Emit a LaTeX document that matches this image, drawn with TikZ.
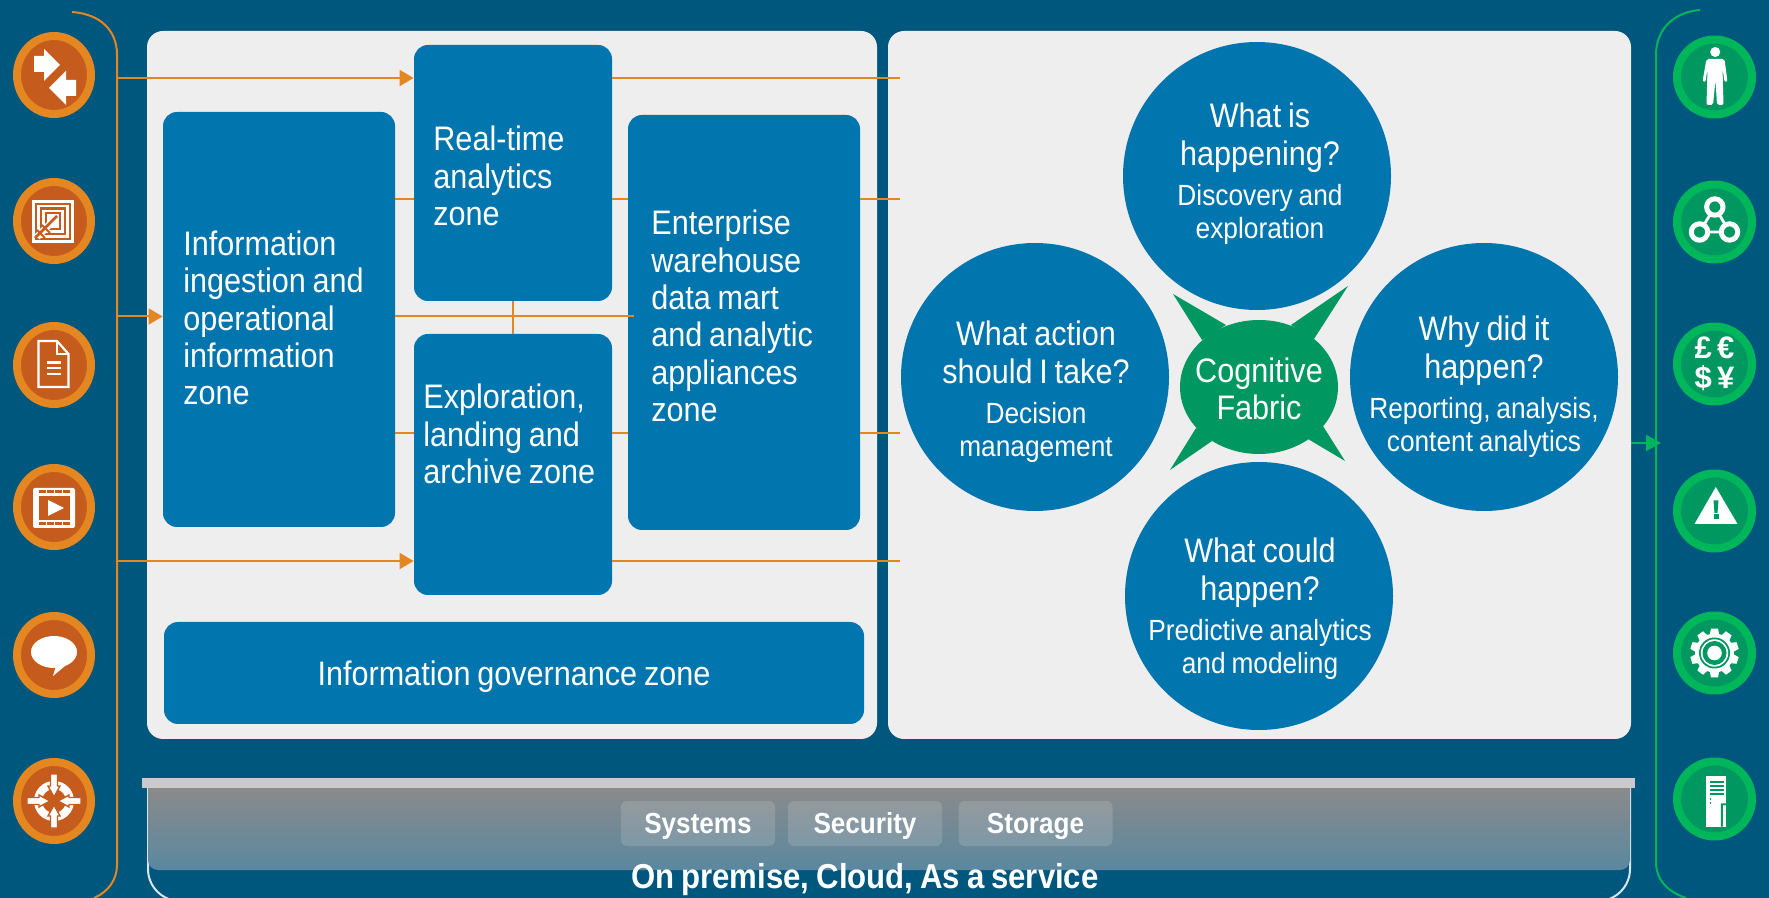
\documentclass[tikz,border=0pt]{standalone}
\usepackage{fontspec}
\setmainfont{Liberation Sans}[FakeStretch=0.9,WordSpace=0.8]
\newfontfamily\iconfont{Liberation Sans}
\usetikzlibrary{arrows.meta,shapes.geometric,shadows}
\definecolor{bgc}{HTML}{00577E}
\definecolor{panelc}{HTML}{EEEEEE}
\definecolor{zonec}{HTML}{0075AE}
\definecolor{orangec}{HTML}{E48720}
\definecolor{rustc}{HTML}{C65B1E}
\definecolor{limec}{HTML}{00B65A}
\definecolor{teal}{HTML}{009860}
\definecolor{barc}{HTML}{CBCBCB}
\definecolor{gradtop}{HTML}{8A8A8A}
\definecolor{gradbot}{HTML}{5A88A0}
\newcommand{\qbig}{\fontsize{17}{18.7}\selectfont}
\newcommand{\qsmall}{\fontsize{14.6}{18.7}\selectfont}
\tikzset{
  panel/.style={fill=panelc, rounded corners=8pt, inner sep=0pt},
  zone/.style={fill=zonec, rounded corners=7pt, inner sep=0pt},
  ztext/.style={text=white, align=left, anchor=west, inner sep=0pt, font=\qbig},
  qcircle/.style={circle, fill=zonec, inner sep=0pt, minimum size=134pt},
  qtext/.style={text=white, align=center, inner sep=0pt, font=\qbig},
  iconL/.style={ellipse, fill=rustc, draw=orangec, line width=4pt, minimum width=37pt, minimum height=39pt, inner sep=0pt,
    drop shadow={shadow xshift=.8pt, shadow yshift=-1pt, opacity=.35, fill=black!50}},
  iconR/.style={circle, fill=teal, draw=limec, line width=4pt, minimum size=37.5pt, inner sep=0pt,
    drop shadow={shadow xshift=.8pt, shadow yshift=-1pt, opacity=.35, fill=black!50}},
  oline/.style={draw=orangec, line width=1pt},
  oarrow/.style={oline, -{Triangle[length=7pt,width=8pt]}},
  gline/.style={draw=limec, line width=1pt},
  button/.style={fill=white, fill opacity=.14, text opacity=1, text=white, rounded corners=3pt, inner sep=0pt,
    minimum width=77pt, minimum height=22.5pt, text height=10.3pt, text depth=0pt, font=\fontsize{14.5}{17}\selectfont\bfseries},
}
\begin{document}
\begin{tikzpicture}[x=0.5pt,y=-0.5pt]
\clip (0,0) rectangle (1769,898);
\fill[bgc] (0,0) rectangle (1769,898);

% panels
\node (leftp) at (512,385) [panel, minimum width=365pt, minimum height=354pt] {};
\node (rightp) at (1259.5,385) [panel, minimum width=371.5pt, minimum height=354pt] {};

% zones
\node (ing) at (279,319.5) [zone, minimum width=116pt, minimum height=207.5pt] {};
\node (rt) at (513,173) [zone, minimum width=99pt, minimum height=128pt] {};
\node (expl) at (513,464.5) [zone, minimum width=99pt, minimum height=130.5pt] {};
\node (ent) at (744,322.5) [zone, minimum width=116pt, minimum height=207.5pt] {};
\node (gov) at (514,673) [zone, minimum width=350pt, minimum height=51pt] {};
\node (ingt) at (183,318) [ztext] {Information\\ingestion and\\operational\\information\\zone};
\node (rtt) at (433,176) [ztext] {Real-time\\analytics\\zone};
\node (explt) at (423,434) [ztext] {Exploration,\\landing and\\archive zone};
\node (entt) at (651,316) [ztext] {Enterprise\\warehouse\\data mart\\and analytic\\appliances\\zone};
\node (govt) at (514,677) [ztext, anchor=center] {Information governance zone};

% left spine and arrows
\coordinate (spA) at (117,78);
\coordinate (spB) at (117,199);
\coordinate (spC) at (117,316.5);
\coordinate (spD) at (117,433);
\coordinate (spE) at (117,561);
\coordinate (endA) at (900,78);
\coordinate (endB) at (900,199);
\coordinate (endD) at (900,433);
\coordinate (endE) at (900,561);
\draw[oline] (72,12) .. controls (100,14) and (117,30) .. (117,55) -- (117,865) .. controls (117,880) and (108,892) .. (94,898);
\draw[oarrow] (spA) -- (rt.west |- spA);
\draw[oarrow] (spC) -- (ing.west |- spC);
\draw[oarrow] (spE) -- (expl.west |- spE);
\draw[oline] (rt.east |- endA) -- (endA);
\draw[oline] (expl.east |- endE) -- (endE);
\draw[oline] (ing.east |- spB) -- (rt.west |- spB);
\draw[oline] (rt.east |- spB) -- (ent.west |- spB);
\draw[oline] (ent.east |- endB) -- (endB);
\draw[oline] (ing.east |- spD) -- (expl.west |- spD);
\draw[oline] (expl.east |- spD) -- (ent.west |- spD);
\draw[oline] (ent.east |- endD) -- (endD);
\draw[oline] (ing.east |- spC) -- ([xshift=3pt]ent.west |- spC);
\draw[oline] (rt.south) -- (expl.north);

% questions
\node (qtop) at (1257,176) [qcircle] {};
\node (qleft) at (1035,377) [qcircle] {};
\node (qright) at (1484,377) [qcircle] {};
\node (qbot) at (1259,596) [qcircle] {};
\node (ttop) at (1260,173.8) [qtext] {What is\\happening?\\[1.7pt]\qsmall Discovery and\\[-2.4pt]\qsmall exploration};
\node (tleft) at (1036,391.8) [qtext] {What action\\should I take?\\[1.7pt]\qsmall Decision\\[-2.4pt]\qsmall management};
\node (tright) at (1484,386.8) [qtext] {Why did it\\happen?\\[1.7pt]\qsmall Reporting, analysis,\\[-2.4pt]\qsmall content analytics};
\node (tbot) at (1260,608.8) [qtext] {What could\\happen?\\[1.7pt]\qsmall Predictive analytics\\[-2.4pt]\qsmall and modeling};

% cognitive fabric
\fill[teal] (1226,325) -- (1173,294) -- (1202,340) -- cycle;
\fill[teal] (1291,325) -- (1348,286) -- (1314,339) -- cycle;
\fill[teal] (1323,426) -- (1345,461) -- (1308,439) -- cycle;
\fill[teal] (1212,441) -- (1170,470) -- (1196,428) -- cycle;
\node (cog) at (1259,387) [ellipse, fill=teal, minimum width=79pt, minimum height=67pt, inner sep=0pt] {};
\node (cogt) at (1259,389) [qtext] {Cognitive\\Fabric};

% right spine
\coordinate (spR) at (1656,443);
\draw[gline] (1700,10) .. controls (1675,12) and (1656,28) .. (1656,55) -- (1656,862) .. controls (1656,880) and (1668,892) .. (1686,898);
\draw[gline, -{Triangle[length=7.5pt,width=8pt]}] (rightp.east |- spR) -- ([xshift=2.5pt]spR);

% platform
\draw[white!85!bgc, line width=1pt, rounded corners=16pt] (148,788) -- (148,901) -- (1630,901) -- (1630,788);
\path[top color=gradtop, bottom color=gradbot, shading angle=0]
  (148,788) [rounded corners=5pt] -- (148,870) -- (1630,870) [sharp corners] -- (1630,788) -- cycle;
\fill[barc] (142,778) rectangle (1635,788);
\node (sys) at (698,823.5) [button] {Systems};
\node (sec) at (865,823.5) [button] {Security};
\node (sto) at (1035.5,823.5) [button] {Storage};
\node (prem) at (865,880) [text=white, inner sep=0pt, font=\fontsize{17.3}{18}\selectfont\bfseries] {On premise, Cloud, As a service};

% left icons
\node (iA) at (54,75) [iconL] {};
\node (iB) at (54,221) [iconL] {};
\node (iC) at (54,365) [iconL] {};
\node (iD) at (54,507) [iconL] {};
\node (iE) at (54,655) [iconL] {};
\node (iF) at (54,801) [iconL] {};

\begin{scope}[shift={(54,75)}]
  \fill[white] (-20,-19) -- (-10,-19) -- (-10,-26) -- (6,-10) -- (-10,6) -- (-10,-3) -- (-20,-3) -- cycle;
  \fill[white] (22,5) -- (12,5) -- (12,-4) -- (-5,13) -- (12,30) -- (12,21) -- (22,21) -- cycle;
\end{scope}
\begin{scope}[shift={(54,221)}]
  \fill[white] (-22.3,-21) rectangle (20.3,22.3);
  \draw[rustc, line width=1.2pt] (-18.3,-17) rectangle (16,18);
  \draw[rustc, line width=1.2pt] (-13,-12.5) rectangle (11,13);
  \draw[rustc, line width=1.2pt] (-8,-8) rectangle (6,8);
  \draw[white, line width=3.5pt] (-17,16) -- (1,-2);
  \draw[rustc, line width=1.4pt] (-19,17) -- (3,-5);
  \draw[rustc, line width=1pt] (-17,9) -- (-9,17) (-12,4) -- (-4,12);
\end{scope}
\begin{scope}[shift={(54,365)}]
  \draw[white, line width=1.1pt] (-15.5,-24) -- (3,-24) -- (14.5,-11) -- (14.5,22) -- (-15.5,22) -- cycle;
  \draw[white, line width=1.1pt] (3,-24) -- (3,-11) -- (14.5,-11);
  \draw[white, line width=1.1pt] (-7,-2.5) -- (7,-2.5) (-7,3) -- (7,3) (-7,9) -- (7,9);
\end{scope}
\begin{scope}[shift={(54,507)}]
  \fill[white, rounded corners=1pt] (-21,-19) rectangle (21,21);
  \fill[rustc] (-15,-11) rectangle (16,13);
  \foreach \x in {-15,-7,1,9} {
    \fill[rustc] (\x,-17) rectangle +(6.5,3.5);
    \fill[rustc] (\x,15) rectangle +(6.5,3.5);
  }
  \fill[white] (-6,-7) -- (10,1) -- (-6,9) -- cycle;
\end{scope}
\begin{scope}[shift={(54,655)}]
  \fill[white] (0,-3) ellipse [x radius=23, y radius=16];
  \fill[white] (2,11) -- (-1,21) -- (11,11) -- cycle;
\end{scope}
\begin{scope}[shift={(54,801)}]
  \draw[white, line width=4pt] (0,0) circle [radius=16];
  \foreach \a in {0,90,180,270} {
    \filldraw[fill=white, draw=rustc, line width=.7pt, rotate=\a]
      (27,-3.5) -- (15,-3.5) -- (15,-6) -- (4,0) -- (15,6) -- (15,3.5) -- (27,3.5) -- cycle;
  }
\end{scope}

% right icons
\node (oA) at (1714.5,77) [iconR] {};
\node (oB) at (1714.5,222) [iconR] {};
\node (oC) at (1714.5,364) [iconR] {};
\node (oD) at (1714.5,511) [iconR] {};
\node (oE) at (1714.5,653) [iconR] {};
\node (oF) at (1714.5,799) [iconR] {};

\begin{scope}[shift={(1714.5,77)}]
  \fill[white] (0.7,-25) circle [radius=5];
  \fill[white, rounded corners=1pt] (-8,-18) -- (10,-18) -- (13,4.5) -- (10,5) -- (8,-9) -- (9,28) -- (2.5,28) -- (1,3) -- (-1.5,28) -- (-8,28) -- (-7,-9) -- (-9,5) -- (-12,4.5) -- cycle;
\end{scope}
\begin{scope}[shift={(1714.5,222)}]
  \draw[white, line width=1.4pt] (0.3,-15) -- (-15,10) -- (15,10) -- cycle;
  \filldraw[fill=teal, draw=white, line width=2.5pt] (0.3,-15) circle [radius=8.2] (-15,10) circle [radius=8.2] (15,10) circle [radius=8.2];
\end{scope}
\node (money) at (1714.5,364) [text=white, align=center, inner sep=0pt, font=\fontsize{15.5}{15}\selectfont\iconfont\bfseries] {£\,€\\\$\,¥};
\begin{scope}[shift={(1714.5,511)}]
  \fill[white] (1.3,-24) -- (-20,13) -- (23,13) -- cycle;
  \fill[teal] (-1,-10.6) -- (4,-10.6) -- (3,2) -- (0,2) -- cycle;
  \fill[teal] (-1,3.5) rectangle (4,7.6);
\end{scope}
\begin{scope}[shift={(1714.5,653)}]
  \foreach \a in {18,54,...,342} {
    \fill[white, rotate=\a] (17,-5) -- (24.3,-3.5) -- (24.3,3.5) -- (17,5) -- cycle;
  }
  \fill[white] (0,0) circle [radius=19.5];
  \fill[teal] (0,0) circle [radius=15.5];
  \fill[white] (0,0) circle [radius=13.7];
  \fill[teal] (0,0) circle [radius=12];
  \fill[white] (0,0) circle [radius=7.3];
\end{scope}
\begin{scope}[shift={(1714.5,799)}]
  \fill[white] (-8.3,-23) rectangle (11.7,27.7);
  \foreach \y in {-18,-14,-10,-6} {
    \fill[teal] (-5,\y) rectangle (9,\y+2.3);
  }
  \fill[teal] (-5,-0.7) rectangle +(1.8,1.6);
  \fill[teal] (-5,3) rectangle +(1.8,1.6);
  \fill[teal] (6.3,4.3) -- (11.7,4.3) -- (11.7,6.3) -- (8.3,6.3) -- (8.3,27.7) -- (6.3,27.7) -- cycle;
\end{scope}
\end{tikzpicture}
\end{document}
